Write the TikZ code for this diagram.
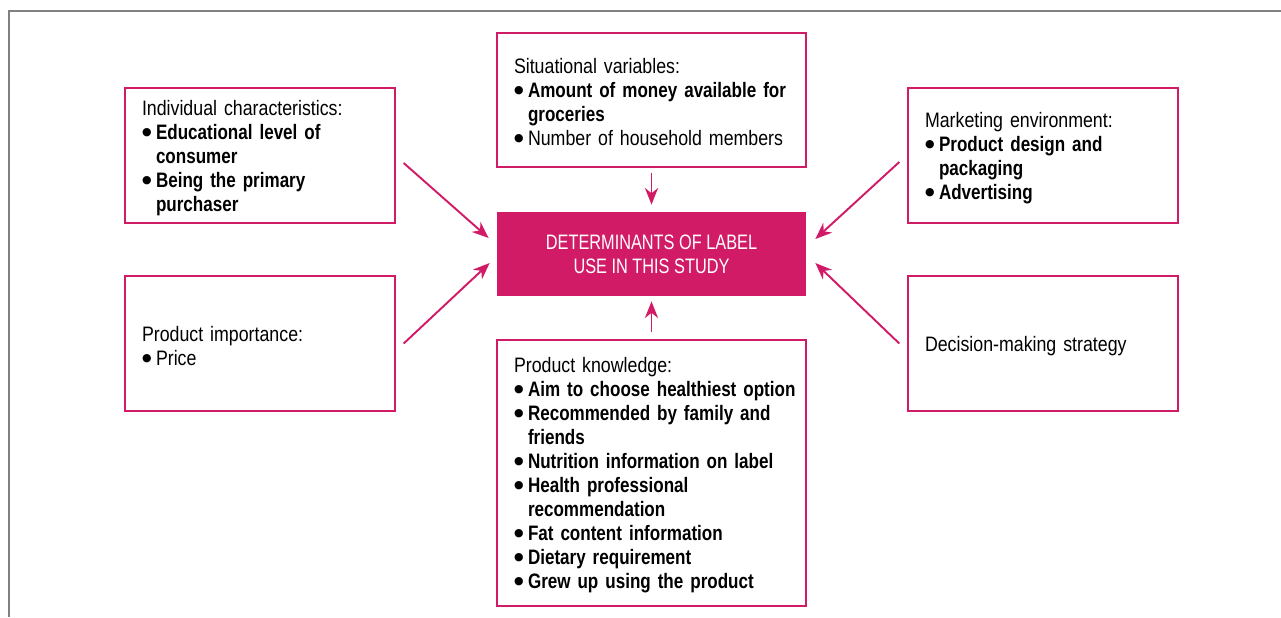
\documentclass[tikz,border=0pt]{standalone}
\usepackage{fontspec}
\setmainfont{Liberation Sans}[FakeStretch=0.85,BoldFeatures={FakeStretch=0.815}]
\newfontfamily\corefont{Liberation Sans}[FakeStretch=0.78]
\newfontfamily\dotfont{DejaVu Sans}
\usepackage{tikz}
\usetikzlibrary{arrows.meta}
\usetikzlibrary{positioning}

\definecolor{labelpink}{RGB}{209,27,103}
\definecolor{framegray}{RGB}{128,128,128}

\hyphenpenalty=10000
% one bullet line, wrapped lines hang under the text
\newcommand{\bul}[1]{\par\hangindent=0.28cm\hangafter=1\noindent
  \makebox[0.28cm][l]{\raisebox{2.3pt}{\dotfont\fontsize{6.2pt}{6.2pt}\selectfont ●}}{#1}\par}
\newcommand{\boxend}{\par\vspace{-0.1cm}}

\tikzstyle{factor}=[draw=labelpink,line width=0.8pt,rectangle,align=left,
  font=\fontsize{11.9pt}{13.66pt}\selectfont,
  execute at end node=\boxend]
\tikzstyle{side}=[factor,minimum width=5.4cm,minimum height=2.7cm,text width=4.72cm]
\tikzstyle{mid}=[factor,minimum width=6.18cm,text width=5.5cm]
\tikzstyle{core}=[rectangle,fill=labelpink,text=white,align=center,
  minimum width=6.18cm,minimum height=1.68cm,
  font=\corefont\fontsize{11.9pt}{13.66pt}\selectfont]
\tikzstyle{feed}=[draw=labelpink,line width=1.1pt,
  -{Stealth[length=9.5pt,width=7.5pt,inset=3pt]}]

\begin{document}
\begin{tikzpicture}
	\useasboundingbox (0,0) rectangle (25.62,-12.34);
	\draw[framegray,line width=1.1pt] (25.62,-0.22) -- (0.18,-0.22) -- (0.18,-12.34);

	\node[core] (dl) at (13.03,-5.08) {DETERMINANTS OF LABEL\\USE IN THIS STUDY};

	\node[mid,minimum height=2.68cm] (sv) at (13.03,-2.0)
	{Situational variables:
	\bul{\bfseries Amount of money available for\newline groceries}
	\bul{Number of household members}};

	\node[mid,minimum height=5.32cm] (pk) at (13.03,-9.46)
	{Product knowledge:
	\bul{\mbox{\bfseries Aim to choose healthiest option}}
	\bul{\bfseries Recommended by family and\newline friends}
	\bul{\bfseries Nutrition information on label}
	\bul{\bfseries Health professional\newline recommendation}
	\bul{\bfseries Fat content information}
	\bul{\bfseries Dietary requirement}
	\bul{\bfseries Grew up using the product}};

	\node[side] (ic) at (5.2,-3.11)
	{Individual characteristics:
	\bul{\bfseries Educational level of\newline consumer}
	\bul{\bfseries Being the primary\newline purchaser}};

	\node[side] (pi) at (5.2,-6.87)
	{Product importance:
	\bul{Price}};

	\node[side] (me) at (20.86,-3.11)
	{Marketing environment:
	\bul{\bfseries Product design and\newline packaging}
	\bul{\bfseries Advertising}};

	\node[side] (ds) at (20.86,-6.87) {Decision-making strategy};

	% arrows into the centre box
	\path[feed] ([yshift=-0.1cm]sv.south) -- ([yshift=0.14cm]dl.north);
	\path[feed] ([yshift=0.14cm]pk.north) -- ([yshift=-0.1cm]dl.south);
	\path[feed] ([xshift=0.16cm,yshift=-0.15cm]ic.east) -- ([xshift=-0.16cm,yshift=0.32cm]dl.west);
	\path[feed] ([xshift=0.16cm]pi.east) -- ([xshift=-0.14cm,yshift=-0.18cm]dl.west);
	\path[feed] ([xshift=-0.16cm,yshift=-0.13cm]me.west) -- ([xshift=0.18cm,yshift=0.3cm]dl.east);
	\path[feed] ([xshift=-0.16cm]ds.west) -- ([xshift=0.18cm,yshift=-0.18cm]dl.east);
\end{tikzpicture}
\end{document}
